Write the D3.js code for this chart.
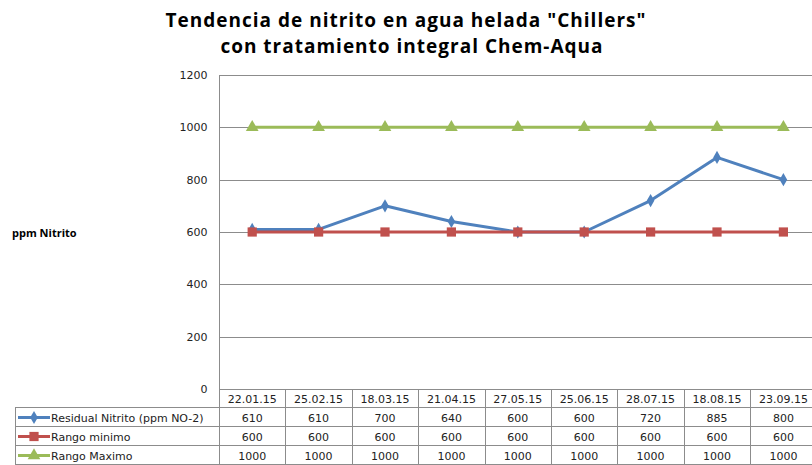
<!DOCTYPE html>
<html>
<head>
<meta charset="utf-8">
<script src="https://cdn.jsdelivr.net/npm/d3@7"></script>
<style>
  body { margin: 0; background: #fff; }
  svg { display: block; }
</style>
</head>
<body>
<svg id="chart" width="812" height="465"></svg>
<script>
// data
const fechas = ["22.01.15", "25.02.15", "18.03.15", "21.04.15", "27.05.15", "25.06.15", "28.07.15", "18.08.15", "23.09.15"];
const residual = [610, 610, 700, 640, 600, 600, 720, 885, 800];
const rangoMin = [600, 600, 600, 600, 600, 600, 600, 600, 600];
const rangoMax = [1000, 1000, 1000, 1000, 1000, 1000, 1000, 1000, 1000];
const yTicks = [0, 200, 400, 600, 800, 1000, 1200];

const series = [
  { name: "Residual Nitrito (ppm NO-2)", values: residual, color: "#4F81BD", marker: "diamond" },
  { name: "Rango minimo", values: rangoMin, color: "#C0504D", marker: "square" },
  { name: "Rango Maximo", values: rangoMax, color: "#9BBB59", marker: "triangle" }
];

const svg = d3.select("#chart");
const plotLeft = 219, plotTop = 75, plotBottom = 389, bandW = 66.4;
const rowH = 19, tableLeft = 15;
const gridColor = "#8c8c8c";

const x = d3.scaleBand().domain(fechas).range([plotLeft, plotLeft + bandW * fechas.length]);
const y = d3.scaleLinear().domain([0, 1200]).range([plotBottom, plotTop]);
const cx = f => x(f) + x.bandwidth() / 2;

// title
const title = svg.append("text")
  .attr("text-anchor", "middle")
  .attr("font-family", "Open Sans, sans-serif")
  .attr("font-weight", "bold")
  .attr("font-size", 19)
  .attr("letter-spacing", 1)
  .attr("fill", "#000");
title.append("tspan").attr("x", 406).attr("y", 27).text('Tendencia de nitrito en agua helada "Chillers"');
title.append("tspan").attr("x", 412).attr("y", 53).text("con tratamiento integral Chem-Aqua");

// y axis label
svg.append("text")
  .attr("x", 12).attr("y", 237)
  .attr("font-family", "Open Sans, sans-serif")
  .attr("font-weight", "bold")
  .attr("font-size", 11)
  .text("ppm Nitrito");

// gridlines
svg.append("g").selectAll("line")
  .data(yTicks.filter(d => d > 0))
  .join("line")
  .attr("x1", plotLeft).attr("x2", 812)
  .attr("y1", d => Math.round(y(d)) + 0.5).attr("y2", d => Math.round(y(d)) + 0.5)
  .attr("stroke", gridColor).attr("stroke-width", 1);

// y axis
const yAxis = svg.append("g")
  .attr("transform", `translate(${plotLeft + 0.5},0)`)
  .call(d3.axisLeft(y).tickValues(yTicks).tickFormat(d3.format("d")).tickSize(0).tickPadding(12));
yAxis.select(".domain").remove();
yAxis.selectAll("text")
  .attr("font-family", "DejaVu Sans, sans-serif")
  .attr("font-size", 11)
  .attr("fill", "#222");

svg.append("line")
  .attr("x1", plotLeft + 0.5).attr("x2", plotLeft + 0.5)
  .attr("y1", plotTop).attr("y2", plotBottom + rowH * 4)
  .attr("stroke", gridColor);

// markers
function markerPath(type) {
  if (type === "diamond") return d3.symbol(d3.symbolDiamond, 50)();
  if (type === "square") return d3.symbol(d3.symbolSquare, 85)();
  return d3.symbol(d3.symbolTriangle, 70)();
}

const line = d3.line()
  .x((d, i) => cx(fechas[i]))
  .y(d => y(d));

// max first, residual, then min on top
[series[2], series[0], series[1]].forEach(s => {
  const g = svg.append("g");
  g.append("path")
    .datum(s.values)
    .attr("d", line)
    .attr("fill", "none")
    .attr("stroke", s.color)
    .attr("stroke-width", 3)
    .attr("stroke-linejoin", "round");
  g.selectAll("path.m")
    .data(s.values)
    .join("path")
    .attr("class", "m")
    .attr("transform", (d, i) => `translate(${cx(fechas[i])},${y(d)})`)
    .attr("d", markerPath(s.marker))
    .attr("fill", s.color);
});

// data table
const table = svg.append("g").attr("font-family", "DejaVu Sans, sans-serif").attr("font-size", 11).attr("fill", "#222");
const tableRight = x.range()[1];

table.append("line")
  .attr("x1", plotLeft).attr("x2", tableRight)
  .attr("y1", plotBottom + 0.5).attr("y2", plotBottom + 0.5)
  .attr("stroke", gridColor);
[1, 2, 3, 4].forEach(r => {
  table.append("line")
    .attr("x1", tableLeft).attr("x2", tableRight)
    .attr("y1", plotBottom + r * rowH - 0.5).attr("y2", plotBottom + r * rowH - 0.5)
    .attr("stroke", gridColor);
});
fechas.forEach(f => {
  const xr = Math.round(x(f) + bandW) + 0.5;
  table.append("line")
    .attr("x1", xr).attr("x2", xr)
    .attr("y1", plotBottom).attr("y2", plotBottom + rowH * 4)
    .attr("stroke", gridColor);
});
table.append("line")
  .attr("x1", tableLeft + 0.5).attr("x2", tableLeft + 0.5)
  .attr("y1", plotBottom + rowH).attr("y2", plotBottom + rowH * 4)
  .attr("stroke", gridColor);

// header
table.selectAll("text.h")
  .data(fechas)
  .join("text")
  .attr("class", "h")
  .attr("x", d => cx(d))
  .attr("y", plotBottom + 13.5)
  .attr("text-anchor", "middle")
  .text(d => d);

// rows
series.forEach((s, r) => {
  const cyRow = plotBottom + rowH * (r + 1) + rowH / 2;
  table.append("line")
    .attr("x1", 18).attr("x2", 50)
    .attr("y1", cyRow).attr("y2", cyRow)
    .attr("stroke", s.color).attr("stroke-width", 3);
  table.append("path")
    .attr("transform", `translate(34,${cyRow})`)
    .attr("d", markerPath(s.marker))
    .attr("fill", s.color);
  table.append("text")
    .attr("x", 51).attr("y", cyRow + 4)
    .text(s.name);
  table.selectAll(null)
    .data(s.values)
    .join("text")
    .attr("x", (d, i) => cx(fechas[i]))
    .attr("y", cyRow + 4)
    .attr("text-anchor", "middle")
    .text(d => d);
});
</script>
</body>
</html>
